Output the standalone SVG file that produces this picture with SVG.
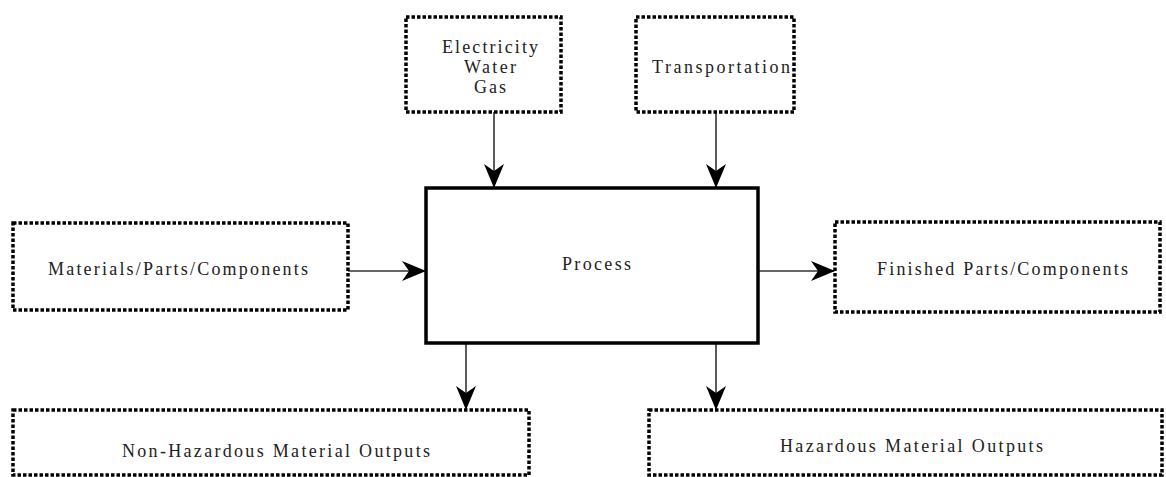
<svg xmlns="http://www.w3.org/2000/svg" width="1166" height="477" viewBox="0 0 1166 477">
  <style>
    .dotted { fill: #fff; stroke: #000; stroke-width: 3.5; stroke-dasharray: 3.5 2; }
    .main { fill: #fff; stroke: #000; stroke-width: 3.5; }
    .label { font-family: "Liberation Serif", "DejaVu Serif", "Times New Roman", serif; font-size: 18px; fill: #222; }
    .link { stroke: #333; stroke-width: 1.6; fill: none; marker-end: url(#head); }
  </style>
  <defs>
    <marker id="head" markerUnits="userSpaceOnUse" markerWidth="24" markerHeight="20" refX="23" refY="10" orient="auto" overflow="visible">
      <path d="M0,0 L24,10 L0,20 L7,10 z" fill="#000"/>
    </marker>
  </defs>
  <rect width="1166" height="477" fill="#fff"/>

  <!-- connectors -->
  <g id="connectors">
    <line class="link" x1="494" y1="112" x2="494" y2="187"/>
    <line class="link" x1="716" y1="112" x2="716" y2="187"/>
    <line class="link" x1="343" y1="271" x2="425" y2="271"/>
    <line class="link" x1="759" y1="271" x2="834" y2="271"/>
    <line class="link" x1="466" y1="344" x2="466" y2="409"/>
    <line class="link" x1="716" y1="344" x2="716" y2="409"/>
  </g>

  <g id="utilities">
    <rect class="dotted" x="406" y="17" width="155" height="95"/>
    <text class="label" x="490" y="53" text-anchor="middle" textLength="96" lengthAdjust="spacing">Electricity</text>
    <text class="label" x="490" y="73" text-anchor="middle" textLength="52" lengthAdjust="spacing">Water</text>
    <text class="label" x="490" y="93" text-anchor="middle" textLength="32" lengthAdjust="spacing">Gas</text>
  </g>

  <g id="transportation">
    <rect class="dotted" x="636" y="17" width="158" height="95"/>
    <text class="label" x="652" y="73" textLength="138" lengthAdjust="spacing">Transportation</text>
  </g>

  <g id="materials">
    <rect class="dotted" x="13" y="223" width="335" height="87"/>
    <text class="label" x="48" y="275" textLength="260" lengthAdjust="spacing">Materials/Parts/Components</text>
  </g>

  <g id="process">
    <rect class="main" x="426" y="188" width="332" height="155"/>
    <text class="label" x="562" y="270" textLength="69" lengthAdjust="spacing">Process</text>
  </g>

  <g id="finished">
    <rect class="dotted" x="835" y="222" width="325" height="90"/>
    <text class="label" x="877" y="275" textLength="251" lengthAdjust="spacing">Finished Parts/Components</text>
  </g>

  <g id="non-hazardous">
    <rect class="dotted" x="13" y="410" width="516" height="65"/>
    <text class="label" x="122" y="457" textLength="308" lengthAdjust="spacing">Non-Hazardous Material Outputs</text>
  </g>

  <g id="hazardous">
    <rect class="dotted" x="649" y="410" width="513" height="65"/>
    <text class="label" x="780" y="452" textLength="263" lengthAdjust="spacing">Hazardous Material Outputs</text>
  </g>
</svg>
